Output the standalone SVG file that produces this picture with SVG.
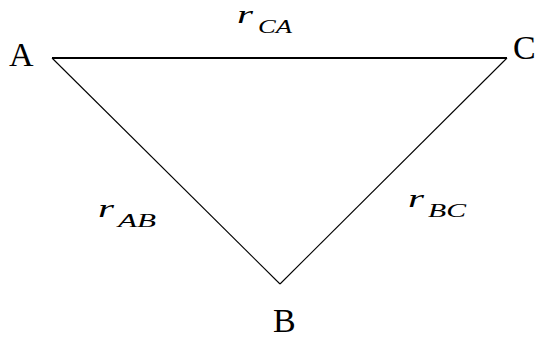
<svg xmlns="http://www.w3.org/2000/svg" width="538" height="340" viewBox="0 0 538 340">
<style>
.lbl{font-family:"Liberation Serif","DejaVu Serif",serif;font-size:34px;fill:#000}
.r{font-family:"Liberation Serif","DejaVu Serif",serif;font-style:italic;font-size:26px;fill:#000}
.sub{font-family:"Liberation Serif","DejaVu Serif",serif;font-style:italic;font-size:18px;fill:#000}
</style>
<rect width="538" height="340" fill="#fff"/>
<g id="connectors" fill="none" stroke="#000">
<line x1="52" y1="58" x2="507" y2="58" stroke-width="2"/>
<line x1="52" y1="58" x2="280" y2="284" stroke-width="1.1"/>
<line x1="507" y1="58" x2="280" y2="284" stroke-width="1.1"/>
</g>
<g id="nodeA"><text class="lbl" x="9" y="66">A</text></g>
<g id="nodeC"><text class="lbl" x="513" y="59">C</text></g>
<g id="nodeB"><text class="lbl" x="273" y="332">B</text></g>
<g id="labelCA"><text class="r" x="237" y="23" textLength="16" lengthAdjust="spacingAndGlyphs">r</text><text class="sub" x="258" y="33" textLength="34" lengthAdjust="spacingAndGlyphs">CA</text></g>
<g id="labelAB"><text class="r" x="98" y="217" textLength="16" lengthAdjust="spacingAndGlyphs">r</text><text class="sub" x="118" y="227" textLength="38" lengthAdjust="spacingAndGlyphs">AB</text></g>
<g id="labelBC"><text class="r" x="408" y="207" textLength="16" lengthAdjust="spacingAndGlyphs">r</text><text class="sub" x="428" y="217" textLength="38" lengthAdjust="spacingAndGlyphs">BC</text></g>
</svg>
